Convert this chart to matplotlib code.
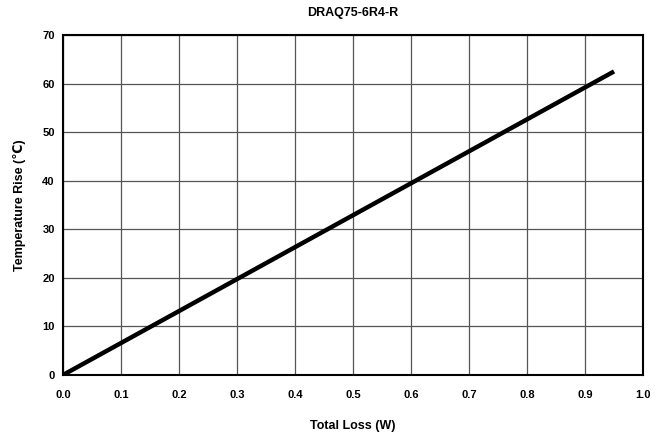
import matplotlib
matplotlib.use("Agg")
import matplotlib.pyplot as plt

plt.rcParams['font.family'] = ['Liberation Sans', 'DejaVu Sans']
plt.rcParams['font.weight'] = 'bold'

# Temperature rise vs total loss
loss_w = [0.0, 0.95]
temp_rise = [0.0, 62.5]

x_ticks = [0.0, 0.1, 0.2, 0.3, 0.4, 0.5, 0.6, 0.7, 0.8, 0.9, 1.0]
y_ticks = [0, 10, 20, 30, 40, 50, 60, 70]

fig = plt.figure(figsize=(6.69, 4.36), dpi=100)
ax = fig.add_axes([0.0942, 0.140, 0.8670, 0.7797])

ax.plot(loss_w, temp_rise, color='black', linewidth=3.2, solid_capstyle='butt')

ax.set_xlim(0, 1.0)
ax.set_ylim(0, 70)
ax.set_xticks(x_ticks)
ax.set_yticks(y_ticks)
ax.set_xticklabels([f'{v:.1f}' for v in x_ticks])
ax.set_yticklabels([str(v) for v in y_ticks])
ax.tick_params(axis='both', length=0, labelsize=8)
ax.tick_params(axis='x', pad=11)
ax.tick_params(axis='y', pad=6)

ax.grid(True, color='#555555', linewidth=0.9)
ax.set_axisbelow(True)
for s in ax.spines.values():
    s.set_linewidth(1.5)
    s.set_color('black')

ax.set_title('DRAQ75-6R4-R', fontsize=9, fontweight='bold', pad=14)
ax.set_xlabel('Total Loss (W)', fontsize=9, fontweight='bold', labelpad=14)
ax.set_ylabel('Temperature Rise (\u2103)', fontsize=9, fontweight='bold', labelpad=12)

fig.savefig('out.png', dpi=100)
